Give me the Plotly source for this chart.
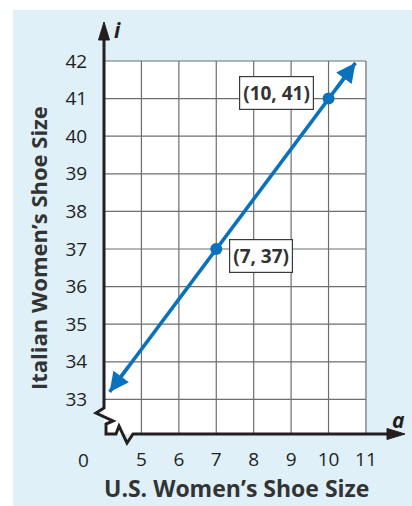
import plotly.graph_objects as go

# ---- data ----
x_ticks = [5, 6, 7, 8, 9, 10, 11]
y_ticks = [33, 34, 35, 36, 37, 38, 39, 40, 41, 42]
line_a = [4.15, 10.72]
line_i = [33.2, 41.95]
point_a = [7, 10]
point_i = [37, 41]
point_labels = ["(7, 37)", "(10, 41)"]
x_title = "U.S. Women’s Shoe Size"
y_title = "Italian Women’s Shoe Size"
x_var = "a"
y_var = "i"
origin_label = "0"

# ---- layout constants ----
W, H = 412, 506
L, R, T, B = 104, 6, 20, 72
PW, PH = W - L - R, H - T - B
xr = [4, 12.07]
yr = [32.08, 43.09]
BLUE_BG = "#dff0f9"
INK = "#231f20"
GRID = "#6d6e71"
LINE = "#0a71bd"
FONT = "Open Sans"


def px(X):
    return (X - L) / PW


def py(Y):
    return (H - B - Y) / PH


def path(points, close=False):
    s = "M" + " L".join(f"{px(x):.5f},{py(y):.5f}" for x, y in points)
    return s + (" Z" if close else "")


fig = go.Figure()

fig.add_trace(go.Scatter(
    x=line_a, y=line_i, mode="lines",
    line=dict(color=LINE, width=3.5), hoverinfo="skip", showlegend=False))
fig.add_trace(go.Scatter(
    x=point_a, y=point_i, mode="markers",
    marker=dict(color=LINE, size=12), hoverinfo="skip", showlegend=False))

shapes = []
# white panel
shapes.append(dict(type="rect", xref="x", yref="y", x0=xr[0], x1=max(x_ticks),
                   y0=yr[0], y1=max(y_ticks), fillcolor="white",
                   line=dict(width=0), layer="below"))
# grid
for v in x_ticks:
    shapes.append(dict(type="line", xref="x", yref="y", x0=v, x1=v, y0=yr[0],
                       y1=max(y_ticks), line=dict(color=GRID, width=1.2), layer="below"))
for v in y_ticks:
    shapes.append(dict(type="line", xref="x", yref="y", x0=xr[0], x1=max(x_ticks),
                       y0=v, y1=v, line=dict(color=GRID, width=1.2), layer="below"))
# white margins around the blue panel
shapes.append(dict(type="rect", xref="paper", yref="paper", x0=px(-5), x1=px(13),
                   y0=py(H + 5), y1=py(-5), fillcolor="white", line=dict(width=0), layer="below"))
shapes.append(dict(type="rect", xref="paper", yref="paper", x0=px(-5), x1=px(W + 5),
                   y0=py(10), y1=py(-5), fillcolor="white", line=dict(width=0), layer="below"))
# axes with break
axis_pts = [(104, 36), (104, 408), (96, 413), (113, 421), (106, 424), (106, 434),
            (116, 434), (119, 426), (127, 443), (133, 434), (392, 434)]
shapes.append(dict(type="path", xref="paper", yref="paper", path=path(axis_pts),
                   line=dict(color=INK, width=3)))
shapes.append(dict(type="path", xref="paper", yref="paper",
                   path=path([(104, 22), (98.5, 40), (109.5, 40)], close=True),
                   fillcolor=INK, line=dict(color=INK, width=1)))
shapes.append(dict(type="path", xref="paper", yref="paper",
                   path=path([(405, 434), (387, 428.5), (387, 439.5)], close=True),
                   fillcolor=INK, line=dict(color=INK, width=1)))

annotations = []
# arrow heads on the line
for k_head, k_tail in ((1, 0), (0, 1)):
    ha, hi = line_a[k_head], line_i[k_head]
    ta, ti = line_a[k_tail], line_i[k_tail]
    annotations.append(dict(
        x=ha, y=hi, ax=ha + (ta - ha) * 0.08, ay=hi + (ti - hi) * 0.08,
        xref="x", yref="y", axref="x", ayref="y", text="", showarrow=True,
        arrowhead=2, arrowsize=1.1, arrowwidth=3.5, arrowcolor=LINE,
        standoff=0, startstandoff=0))
# point labels
for a, i, lab, xs, ys in zip(point_a, point_i, point_labels, [45, -52], [-7, 6]):
    annotations.append(dict(
        x=a, y=i, xref="x", yref="y", text=f"<b>{lab}</b>", showarrow=False,
        xshift=xs, yshift=ys, bgcolor="white", bordercolor="#3a3a3a", borderwidth=1.2,
        borderpad=3, xanchor="center", yanchor="middle",
        font=dict(family=FONT, size=19, color="#333333")))


def paper_text(X, Y, text, size, color=INK, angle=0):
    annotations.append(dict(x=px(X), y=py(Y), xref="paper", yref="paper", text=text,
                            showarrow=False, xanchor="center", yanchor="middle",
                            textangle=angle, font=dict(family=FONT, size=size, color=color)))


# axis variables and origin label
paper_text(117, 30, f"<b><i>{y_var}</i></b>", 21)
paper_text(398, 420, f"<b><i>{x_var}</i></b>", 21)
paper_text(83, 460, origin_label, 19)
# titles
paper_text(236, 488, f"<b>{x_title}</b>", 23, "#333333")
paper_text(38, 248, f"<b>{y_title}</b>", 22, "#333333", -90)

fig.update_layout(
    width=W, height=H, margin=dict(l=L, r=R, t=T, b=B, pad=0),
    paper_bgcolor=BLUE_BG, plot_bgcolor=BLUE_BG,
    shapes=shapes, annotations=annotations, showlegend=False,
    xaxis=dict(range=xr, tickvals=x_ticks, showgrid=False, zeroline=False, showline=False,
               ticks="outside", ticklen=8, tickcolor="rgba(0,0,0,0)",
               tickfont=dict(family=FONT, size=19, color=INK), fixedrange=True),
    yaxis=dict(range=yr, tickvals=y_ticks, showgrid=False, zeroline=False, showline=False,
               ticks="outside", ticklen=12, tickcolor="rgba(0,0,0,0)",
               tickfont=dict(family=FONT, size=19, color=INK), fixedrange=True),
)

fig.write_html("out.html", config={"displayModeBar": False},
               post_script="document.body.style.margin='0';")
